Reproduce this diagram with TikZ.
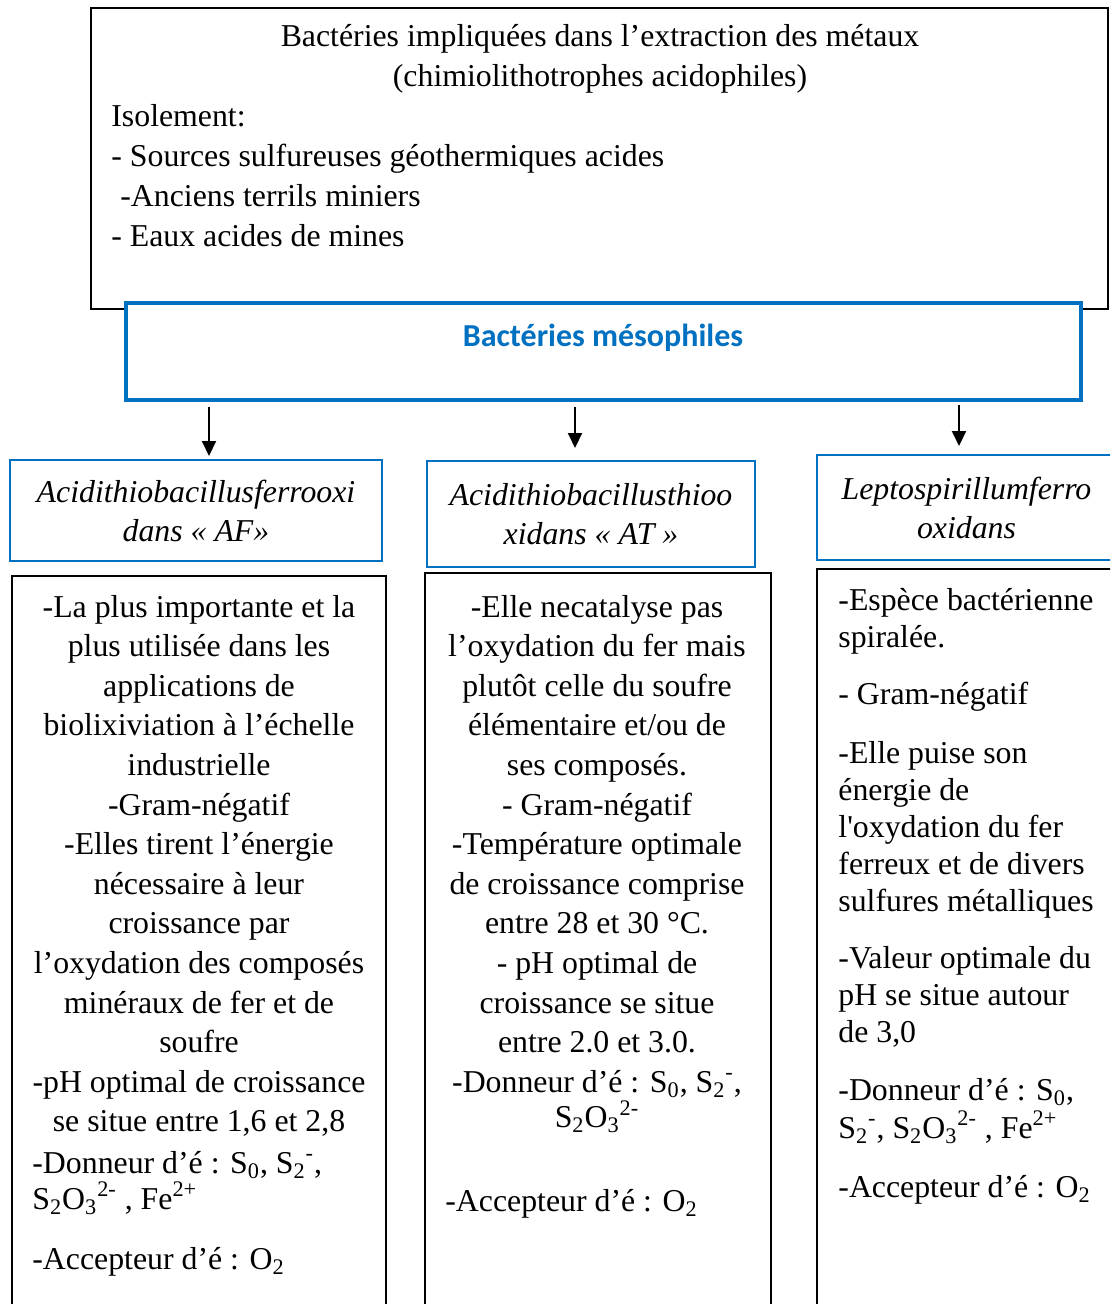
\documentclass[tikz,border=0pt]{standalone}
\usepackage{fontspec}
\setmainfont{Liberation Serif}
\newfontfamily\calibri{Carlito}
\usepackage{xcolor}
\usetikzlibrary{arrows.meta}
\definecolor{wordblue}{HTML}{0070C0}
\newcommand{\ctab}[1]{\begin{tabular}[t]{@{}c@{}}#1\end{tabular}}
\newcommand{\ltab}[1]{\begin{tabular}[t]{@{}l@{}}#1\end{tabular}}

\begin{document}
\begin{tikzpicture}[x=0.5pt,y=-0.5pt,
    txt/.style={inner sep=0pt,font=\fontsize{15.9}{20}\selectfont},
    ctxt/.style={txt,anchor=base},
    ltxt/.style={txt,anchor=base west},
    blkbox/.style={draw=black,line width=1pt,inner sep=0pt},
    hdbox/.style={draw=wordblue,line width=1pt,inner sep=0pt,align=center,
        font=\fontsize{15.9}{19.5}\selectfont\itshape},
    down/.style={-{Triangle[width=7pt,length=7.5pt]},line width=1pt}]
    \clip (0,0) rectangle (1110,1304);

    % boites
    \node[blkbox,minimum width=508.5pt,minimum height=150.5pt] (isol) at (599.5,158.5) {};
    \node[draw=wordblue,line width=2pt,fill=white,minimum width=477.5pt,minimum height=48.5pt] (mes) at (603.5,351.5) {};
    \node[hdbox,minimum width=186pt,minimum height=50.5pt] (hA) at (196,510.5) {Acidithiobacillusferrooxi\\dans « AF»};
    \node[hdbox,minimum width=164pt,minimum height=53pt] (hB) at (591,514) {Acidithiobacillusthioo\\xidans « AT »};
    \node[hdbox,minimum width=149.5pt,minimum height=52.5pt] (hC) at (966.5,507.5) {Leptospirillumferro\\oxidans};
    \node[blkbox,minimum width=187pt,minimum height=377pt] (cA) at (199,953) {};
    \node[blkbox,minimum width=173pt,minimum height=378.5pt] (cB) at (598,951.5) {};
    \node[blkbox,minimum width=150.5pt,minimum height=380.5pt] (cC) at (967.5,949.5) {};

    % fleches
    \coordinate (aA) at (209,0);
    \coordinate (aB) at (575,0);
    \coordinate (aC) at (959,0);
    \draw[down,shorten <=2.5pt,shorten >=1.5pt] (mes.south -| aA) -- (hA.north -| aA);
    \draw[down,shorten <=2.5pt,shorten >=6pt] (mes.south -| aB) -- (hB.north -| aB);
    \draw[down,shorten <=1.5pt,shorten >=4pt] (mes.south -| aC) -- (hC.north -| aC);

    % textes
    \node[ctxt] (titre) at (600,47) {\ctab{Bactéries impliquées dans l’extraction des métaux\\(chimiolithotrophes acidophiles)}};
    \node[ltxt] (lieux) at (111,127) {\ltab{Isolement:\\- Sources sulfureuses géothermiques acides\\\hspace{4.5pt}-Anciens terrils miniers\\- Eaux acides de mines}};
    \node[txt,anchor=base,text=wordblue,font=\calibri\bfseries\fontsize{16}{19}\selectfont] (mestxt) at (603,347) {Bactéries mésophiles};

    \node[ctxt,font=\fontsize{15.9}{19.8}\selectfont] (tA) at (199,617) {\ctab{-La plus importante et la\\plus utilisée dans les\\applications de\\biolixiviation à l’échelle\\industrielle\\-Gram-négatif\\-Elles tirent l’énergie\\nécessaire à leur\\croissance par\\l’oxydation des composés\\minéraux de fer et de\\soufre\\-pH optimal de croissance\\se situe entre 1,6 et 2,8}};
    \node[ltxt] (tAdon) at (32,1173) {\ltab{-Donneur d’é : S\textsubscript{0}, S\textsubscript{2}\textsuperscript{-},\\[-2pt]S\textsubscript{2}O\textsubscript{3}\textsuperscript{2-} , Fe\textsuperscript{2+}}};
    \node[ltxt] (tAacc) at (32,1269) {-Accepteur d’é : O\textsubscript{2}};

    \node[ctxt,font=\fontsize{15.9}{19.8}\selectfont] (tB) at (597,617) {\ctab{-Elle necatalyse pas\\l’oxydation du fer mais\\plutôt celle du soufre\\élémentaire et/ou de\\ses composés.\\- Gram-négatif\\-Température optimale\\de croissance comprise\\entre 28 et 30 °C.\\- pH optimal de\\croissance se situe\\entre 2.0 et 3.0.\\-Donneur d’é : S\textsubscript{0}, S\textsubscript{2}\textsuperscript{-},\\[-2pt]S\textsubscript{2}O\textsubscript{3}\textsuperscript{2-}}};
    \node[ltxt] (tBacc) at (445,1211) {-Accepteur d’é : O\textsubscript{2}};

    \node[ltxt,font=\fontsize{15.9}{18.5}\selectfont] (tC1) at (838,610) {\ltab{-Espèce bactérienne\\spiralée.}};
    \node[ltxt] (tC2) at (838,704) {- Gram-négatif};
    \node[ltxt,font=\fontsize{15.9}{18.5}\selectfont] (tC3) at (838,763) {\ltab{-Elle puise son\\énergie de\\l\textquotesingle oxydation du fer\\ferreux et de divers\\sulfures métalliques}};
    \node[ltxt,font=\fontsize{15.9}{18.5}\selectfont] (tC4) at (838,968) {\ltab{-Valeur optimale du\\pH se situe autour\\de 3,0}};
    \node[ltxt,font=\fontsize{15.9}{18}\selectfont] (tC5) at (838,1100) {\ltab{-Donneur d’é : S\textsubscript{0},\\S\textsubscript{2}\textsuperscript{-}, S\textsubscript{2}O\textsubscript{3}\textsuperscript{2-} , Fe\textsuperscript{2+}}};
    \node[ltxt] (tC6) at (838,1197) {-Accepteur d’é : O\textsubscript{2}};
\end{tikzpicture}
\end{document}
